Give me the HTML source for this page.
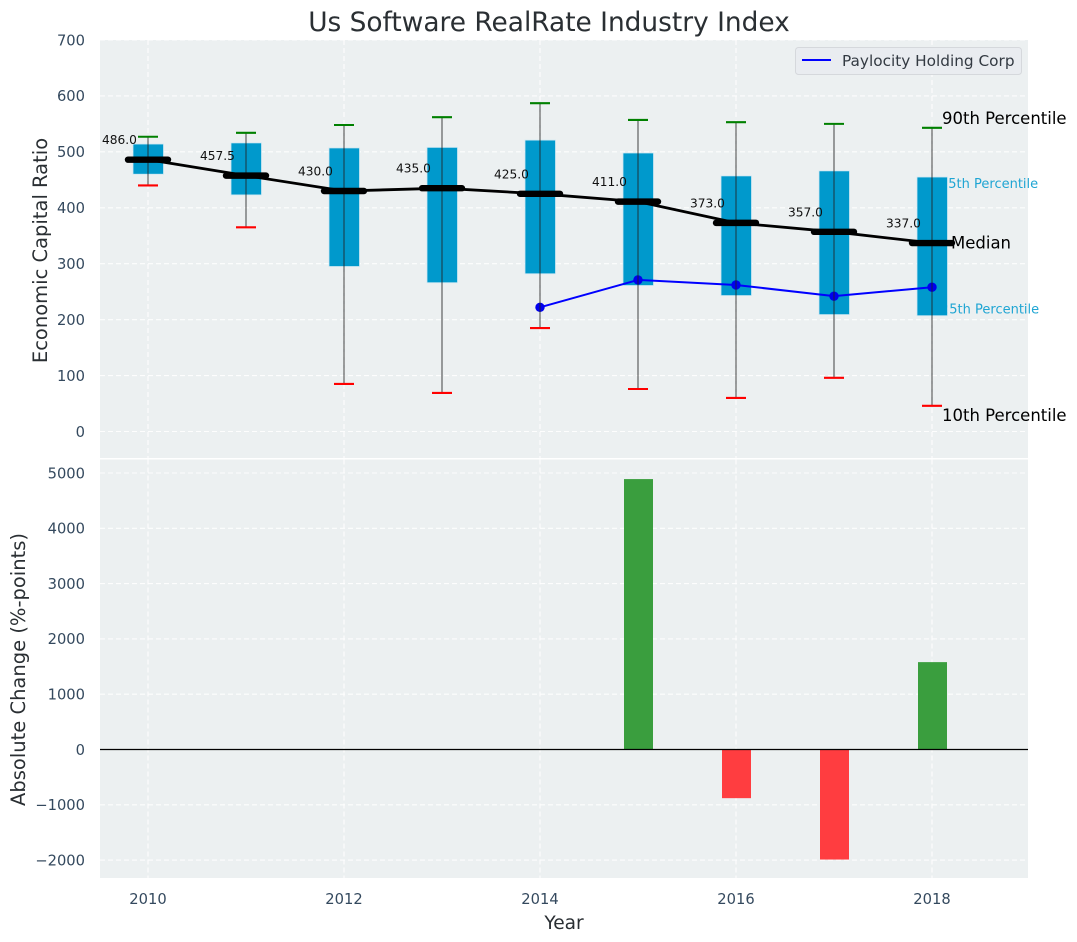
<!DOCTYPE html>
<html lang="en">
<head>
<meta charset="utf-8">
<title>Us Software RealRate Industry Index</title>
<style>
html,body{margin:0;padding:0;background:#fff;}
svg{display:block;font-family:"DejaVu Sans","Liberation Sans",sans-serif;}
</style>
</head>
<body>
<svg id="chart" xmlns="http://www.w3.org/2000/svg" width="1077" height="942" viewBox="0 0 1077 942"></svg>
<script>
const years = [2010, 2011, 2012, 2013, 2014, 2015, 2016, 2017, 2018];
const p90 = [527, 534, 548, 562, 587, 557, 553, 550, 543];
const q3 = [514, 516, 507, 508, 521, 498, 457, 466, 455];
const medians = [486, 457.5, 430, 435, 425, 411, 373, 357, 337];
const q1 = [460, 423, 295, 266, 282, 261, 243, 209, 207];
const p10 = [440, 365, 85, 69, 185, 76, 60, 96, 46];
const companyYears = [2014, 2015, 2016, 2017, 2018];
const companyValues = [222, 271, 262, 242, 258];
const changeYears = [2015, 2016, 2017, 2018];
const changeValues = [4890, -880, -1990, 1580];
const xTicks = [2010, 2012, 2014, 2016, 2018];
const topTicks = [0, 100, 200, 300, 400, 500, 600, 700];
const bottomTicks = [-2000, -1000, 0, 1000, 2000, 3000, 4000, 5000];

const NS = 'http://www.w3.org/2000/svg';
const svg = document.getElementById('chart');
const L = 100, R = 1028, T1 = 40, B1 = 458, T2 = 459.5, B2 = 878;
const x = v => 148 + (v - 2010) * 98;
const y1 = v => 431.5 - v * 0.5593;
const y2 = v => 749.5 - v * 0.05530;
const fmt = v => (v < 0 ? '\u2212' + Math.abs(v) : String(v));

function make(tag, attrs, text) {
  const el = document.createElementNS(NS, tag);
  for (const k in attrs) el.setAttribute(k, attrs[k]);
  if (text !== undefined) el.textContent = text;
  svg.appendChild(el);
  return el;
}
function label(name, el) {
  
  
  return el;
}

/* panels */
label('top-panel-background', make('rect', {x: L, y: T1, width: R - L, height: B1 - T1, fill: '#ecf0f1'}));
label('bottom-panel-background', make('rect', {x: L, y: T2, width: R - L, height: B2 - T2, fill: '#ecf0f1'}));

/* grids */
const gridStyle = {stroke: '#ffffff', 'stroke-width': 1.1, 'stroke-dasharray': '5,3', opacity: 0.9};
topTicks.forEach(t => {
  label('top-grid-line-y', make('line', Object.assign({x1: L, x2: R, y1: y1(t), y2: y1(t)}, gridStyle)));
  label('top-y-tick-label', make('text', {x: 85, y: y1(t) + 5.3, 'text-anchor': 'end', 'font-size': 14.7, fill: '#34495e'}, fmt(t)));
});
bottomTicks.forEach(t => {
  label('bottom-grid-line-y', make('line', Object.assign({x1: L, x2: R, y1: y2(t), y2: y2(t)}, gridStyle)));
  label('bottom-y-tick-label', make('text', {x: 85, y: y2(t) + 5.3, 'text-anchor': 'end', 'font-size': 14.7, fill: '#34495e'}, fmt(t)));
});
xTicks.forEach(t => {
  label('top-grid-line-x', make('line', Object.assign({x1: x(t), x2: x(t), y1: T1, y2: B1}, gridStyle)));
  label('bottom-grid-line-x', make('line', Object.assign({x1: x(t), x2: x(t), y1: T2, y2: B2}, gridStyle)));
  label('x-tick-label', make('text', {x: x(t), y: 904, 'text-anchor': 'middle', 'font-size': 14.7, fill: '#34495e'}, t));
});

/* percentile key text that sits beneath the last box */
const keyLast = years.length - 1;
label('percentile-75-key', make('text', {x: 932 + 8, y: y1(q3[keyLast]) + 11, 'font-size': 13, fill: '#1fa5d3'}, '75th Percentile'));
label('percentile-25-key', make('text', {x: 932 + 9, y: y1(q1[keyLast]) - 2, 'font-size': 13, fill: '#1fa5d3'}, '25th Percentile'));

/* boxes */
years.forEach((yr, i) => {
  const top = y1(q3[i]), bot = y1(q1[i]);
  const box = make('rect', {x: x(yr) - 15, y: top, width: 30.5, height: bot - top, fill: '#0099cc', stroke: '#cfe8f2', 'stroke-width': 0.8});
  label('iqr-box-' + yr, box);
});

/* company line */
const companyPts = companyYears.map((yr, i) => x(yr) + ',' + y1(companyValues[i])).join(' ');
label('company-line', make('polyline', {points: companyPts, fill: 'none', stroke: '#0000ff', 'stroke-width': 2}));
companyYears.forEach((yr, i) => {
  label('company-point-' + yr, make('circle', {cx: x(yr), cy: y1(companyValues[i]), r: 4.7, fill: '#0000ee'}));
});

/* whiskers */
years.forEach((yr, i) => {
  label('whisker-' + yr, make('line', {x1: x(yr), x2: x(yr), y1: y1(p90[i]), y2: y1(p10[i]), stroke: '#222222', 'stroke-opacity': 0.6, 'stroke-width': 1.4}));
  label('cap-90th-' + yr, make('line', {x1: x(yr) - 10, x2: x(yr) + 10, y1: y1(p90[i]), y2: y1(p90[i]), stroke: '#008000', 'stroke-width': 2.1}));
  label('cap-10th-' + yr, make('line', {x1: x(yr) - 10, x2: x(yr) + 10, y1: y1(p10[i]), y2: y1(p10[i]), stroke: '#ff0000', 'stroke-width': 2.1}));
});

/* median line */
const medianPts = years.map((yr, i) => x(yr) + ',' + y1(medians[i])).join(' ');
label('median-line', make('polyline', {points: medianPts, fill: 'none', stroke: '#000000', 'stroke-width': 2.8}));
years.forEach((yr, i) => {
  label('median-bar-' + yr, make('line', {x1: x(yr) - 20, x2: x(yr) + 20, y1: y1(medians[i]), y2: y1(medians[i]), stroke: '#000000', 'stroke-width': 6.4, 'stroke-linecap': 'round'}));
  label('median-value-' + yr, make('text', {x: x(yr) - 46, y: y1(medians[i]) - 15.5, 'font-size': 12.2, fill: '#111111'}, medians[i].toFixed(1)));
});

/* key annotations */
label('percentile-90-key', make('text', {x: 942, y: y1(p90[keyLast]) - 4, 'font-size': 16.5, fill: '#000000'}, '90th Percentile'));
label('median-key', make('text', {x: 951, y: y1(medians[keyLast]) + 5.5, 'font-size': 16.5, fill: '#000000'}, 'Median'));
label('percentile-10-key', make('text', {x: 942, y: y1(p10[keyLast]) + 15, 'font-size': 16.5, fill: '#000000'}, '10th Percentile'));

/* change bars */
changeYears.forEach((yr, i) => {
  const v = changeValues[i];
  const top = Math.min(y2(v), y2(0));
  const h = Math.abs(y2(v) - y2(0));
  const bar = make('rect', {x: x(yr) - 14, y: top, width: 29, height: h, fill: v >= 0 ? '#3a9e3e' : '#ff3d40'});
  label('change-bar-' + yr, bar);
});
label('zero-line', make('line', {x1: L, x2: R, y1: y2(0), y2: y2(0), stroke: '#000000', 'stroke-width': 1.3}));

/* legend */
const legendBox = make('rect', {x: 795.5, y: 47.5, width: 226, height: 27, rx: 3, fill: '#e9ecf0', stroke: '#d5d8dc', 'stroke-width': 1});


const legendLine = make('line', {x1: 802, x2: 831, y1: 60, y2: 60, stroke: '#0000ff', 'stroke-width': 2});


const legendText = make('text', {x: 842, y: 66, 'font-size': 15.3, fill: '#333a42'}, 'Paylocity Holding Corp');



/* titles */
label('chart-title', make('text', {x: 549, y: 31, 'text-anchor': 'middle', 'font-size': 26.4, fill: '#2a2f33'}, 'Us Software RealRate Industry Index'));
label('x-axis-title', make('text', {x: 564, y: 929, 'text-anchor': 'middle', 'font-size': 18.6, fill: '#2a2f33'}, 'Year'));
label('top-y-axis-title', make('text', {transform: 'translate(47,250.5) rotate(-90)', 'text-anchor': 'middle', 'font-size': 19.5, fill: '#2a2f33'}, 'Economic Capital Ratio'));
label('bottom-y-axis-title', make('text', {transform: 'translate(25,669.5) rotate(-90)', 'text-anchor': 'middle', 'font-size': 19.5, fill: '#2a2f33'}, 'Absolute Change (%-points)'));
</script>
</body>
</html>
